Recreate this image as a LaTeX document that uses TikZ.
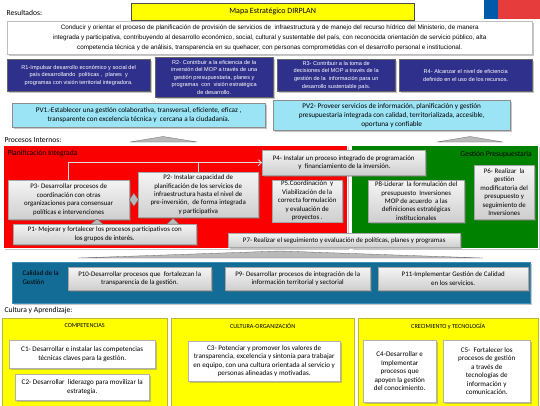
\documentclass[tikz,border=0pt]{standalone}
\usepackage{fontspec}
\setmainfont{Carlito}
\newfontfamily\arialfont{Liberation Sans}
\usetikzlibrary{shadows,arrows.meta,positioning}
\definecolor{navyR}{RGB}{47,47,140}
\definecolor{cyanPV}{RGB}{155,228,246}
\definecolor{redPI}{RGB}{250,0,0}
\definecolor{greenGP}{RGB}{0,130,0}
\definecolor{blueCG}{RGB}{18,108,150}
\definecolor{yellowCA}{RGB}{255,255,0}
\definecolor{flagblue}{RGB}{0,90,170}
\definecolor{flagred}{RGB}{230,60,60}
\begin{document}
\begin{tikzpicture}[x=1pt,y=-1pt,
  shd/.style={drop shadow={shadow xshift=1.5pt,shadow yshift=-1.5pt,opacity=0.45}},
  box/.style={anchor=north west,inner sep=1pt,align=center,minimum width=#1},
  rbox/.style={box=#1,draw=black!60,fill=navyR,text=white,font=\arialfont\fontsize{5.6}{7.6}\selectfont,shd},
  pvbox/.style={box=#1,draw=black!45,fill=cyanPV,font=\fontsize{7.2}{9}\selectfont,shd},
  pbox/.style={box=#1,draw=gray!70,top color=gray!8,bottom color=gray!38,font=\fontsize{6.9}{8.4}\selectfont,shd},
  cbox/.style={box=#1,draw=gray!60,fill=white,font=\fontsize{7.1}{8.5}\selectfont,shd},
  panel/.style={anchor=north west,inner sep=0pt,minimum width=#1},
  head/.style={anchor=west,font=\fontsize{7.6}{9}\selectfont},
  lbl/.style={font=\fontsize{7.6}{9}\selectfont,text=black},
  link/.style={draw=gray!25,line width=0.9pt,-{Straight Barb[length=3pt]}},
  tri/.style={fill=gray!55,draw=black!60,line width=0.3pt}]
\useasboundingbox (0,0) rectangle (540,405);
% Resultados
\node[head] (res) at (3,13) {Resultados:};
\node[anchor=north west,draw=black!70,fill=yellowCA,minimum width=283pt,minimum height=17pt,inner sep=0pt,font=\fontsize{8}{9}\selectfont] (title) at (131,3) {Mapa Estratégico DIRPLAN};
\fill[flagblue] (484,0) rectangle (498,19);
\fill[flagred] (498,0) rectangle (540,19);
\node[box=525pt,minimum height=33pt,draw=gray!50,fill=white,font=\arialfont\fontsize{6.35}{10}\selectfont,shd] (mision) at (7,21) {Conducir y orientar el proceso de planificación de provisión de servicios de \ infraestructura y de manejo del recurso hídrico del Ministerio, de manera\\integrada y participativa, contribuyendo al desarrollo económico, social, cultural y sustentable del país, con reconocida orientación de servicio público, alta\\competencia técnica y de análisis, transparencia en su quehacer, con personas comprometidas con el desarrollo personal e institucional.};
\node[rbox=143pt,minimum height=32pt] (r1) at (7,59) {R1-Impulsar desarrollo económico y social del\\país desarrollando \ políticas , \ planes \ y\\programas con visión territorial integradora.};
\node[rbox=118pt,minimum height=40pt] (r2) at (155,57) {R2- Contribuir a la eficiencia de la\\inversión del MOP a través de una\\gestión presupuestaria, planes y\\programas \ con \ visión estratégica\\de desarrollo.};
\node[rbox=118pt,minimum height=32pt] (r3) at (277,59) {R3- Contribuir a la toma de\\decisiones del MOP a través de la\\gestión de la \ información para un\\desarrollo sustentable país.};
\node[rbox=133pt,minimum height=32pt] (r4) at (399,59) {R4- Alcanzar el nivel de eficiencia\\definido en el uso de los recursos.};
\node[pvbox=253pt,minimum height=24pt] (pv1) at (12,103) {PV1.-Establecer una gestión colaborativa, transversal, eficiente, eficaz ,\\transparente con excelencia técnica y \ cercana a la ciudadanía.};
\node[pvbox=237pt,minimum height=30pt] (pv2) at (273,100) {PV2- Proveer servicios de información, planificación y gestión\\presupuestaria integrada con calidad, territorializada, accesible,\\oportuna y confiable};
\filldraw[tri] (130,142) -- (163,136.5) -- (197,142) -- cycle;
\filldraw[tri] (437,142) -- (470,136.5) -- (503,142) -- cycle;
% Procesos internos
\node[head] (proc) at (1,140) {Procesos Internos:};
\node[panel=344pt,minimum height=103pt,draw=white,fill=redPI,shd] (planif) at (3,145) {};
\node[panel=187pt,minimum height=103pt,draw=white,fill=greenGP,shd] (gestion) at (351,145) {};
\node[lbl,anchor=north west] at ([xshift=1pt,yshift=-2pt]planif.north west) {Planificación Integrada};
\node[lbl,anchor=north east] at ([xshift=-3pt,yshift=-3pt]gestion.north east) {Gestión Presupuestaria};
\node[pbox=163pt,minimum height=25pt] (p4) at (262,150) {P4- Instalar un proceso integrado de programación\\ \ y \ financiamiento de la inversión.};
\node[pbox=121pt,minimum height=39pt] (p3) at (8,180) {P3- Desarrollar procesos de\\coordinación con otras\\organizaciones para consensuar\\políticas e intervenciones};
\node[pbox=120pt,minimum height=45pt] (p2) at (138,172) {P2- Instalar capacidad de\\planificación de los servicios de\\infraestructura hasta el nivel de\\pre-inversión, \ de forma integrada\\y participativa};
\node[pbox=70pt,minimum height=39pt] (p5) at (272,180) {P5.Coordinación \ y\\Viabilización de la\\correcta formulación\\y evaluación de\\proyectos .};
\node[pbox=96pt,minimum height=42pt] (p8) at (368,180) {P8-Liderar \ la formulación del\\presupuesto \ Inversiones\\MOP de acuerdo \ a las\\definiciones estratégicas\\institucionales};
\node[pbox=60pt,minimum height=54pt] (p6) at (474,165) {P6- Realizar \ la\\gestión\\modificatoria del\\presupuesto y\\seguimiento de\\Inversiones};
\node[pbox=183pt,minimum height=20pt] (p1) at (13,224) {P1- Mejorar y fortalecer los procesos participativos con\\los grupos de interés.};
\node[pbox=232pt,minimum height=14pt] (p7) at (228,233) {P7- Realizar el seguimiento y evaluación de políticas, planes y programas};
\draw[link] (p3.north) |- (p4.west);
\draw[draw=gray!25,line width=0.9pt] (p2.north) -- (p2.north |- p4.west);
\draw[draw=black!60,fill=gray!55,line width=0.3pt] (p3.east) -- ++(4.5,-6.5) -- ++(4.5,6.5) -- ++(-4.5,6.5) -- cycle;
\filldraw[tri] (91,224) -- (97,219) -- (103,224) -- cycle;
\filldraw[tri] (167,224) -- (173,218.5) -- (179,224) -- cycle;
\filldraw[tri] (78,258) -- (280,251) -- (483,258) -- cycle;
% Calidad de la gestion
\node[panel=518pt,minimum height=41pt,draw=cyan!40!blueCG,line width=1pt,fill=blueCG,shd] (calidad) at (12,262) {};
\node[lbl,anchor=west,align=left,font=\fontsize{7}{9}\selectfont] at (19,278) {Calidad de la\\Gestión};
\node[pbox=143pt,minimum height=23pt] (p10) at (68,267) {P10-Desarrollar procesos que \ fortalezcan la\\transparencia de la gestión.};
\node[pbox=145pt,minimum height=23pt] (p9) at (225,267) {P9- Desarrollar procesos de integración de la\\información territorial y sectorial};
\node[pbox=150pt,minimum height=23pt] (p11) at (378,267) {P11-Implementar Gestión de Calidad\\en los servicios.};
% Cultura y aprendizaje
\node[head] (cult) at (1,311) {Cultura y Aprendizaje:};
\foreach \x/\w/\n/\t in {2/165/comp/COMPETENCIAS,171/183/org/CULTURA-ORGANIZACIÓN,358/180/crec/CRECIMIENTO y TECNOLOGÍA}{
  \node[panel=\w pt,minimum height=88pt,draw=yellow!70!black,fill=yellowCA] (\n) at (\x,318) {};
  \node[font=\fontsize{6.2}{7}\selectfont] at ([yshift=-8pt]\n.north) {\t};
}
\node[cbox=146pt,minimum height=28pt] (c1) at (9,340) {C1- Desarrollar e instalar las competencias\\técnicas claves para la gestión.};
\node[cbox=134pt,minimum height=26pt] (c2) at (15,374) {C2- Desarrollar \ liderazgo para movilizar la\\estrategia.};
\node[cbox=152pt,minimum height=40pt] (c3) at (188,341) {C3- Potenciar y promover los valores de\\transparencia, excelencia y sintonía para trabajar\\en equipo, con una cultura orientada al servicio y\\personas alineadas y motivadas.};
\node[cbox=73pt,minimum height=62pt] (c4) at (363,340) {C4-Desarrollar e\\Implementar\\procesos que\\apoyen la gestión\\del conocimiento.};
\node[cbox=87pt,minimum height=62pt] (c5) at (443,340) {C5- \ Fortalecer los\\procesos de gestión\\a través de\\tecnologías de\\información y\\comunicación.};
\end{tikzpicture}
\end{document}
